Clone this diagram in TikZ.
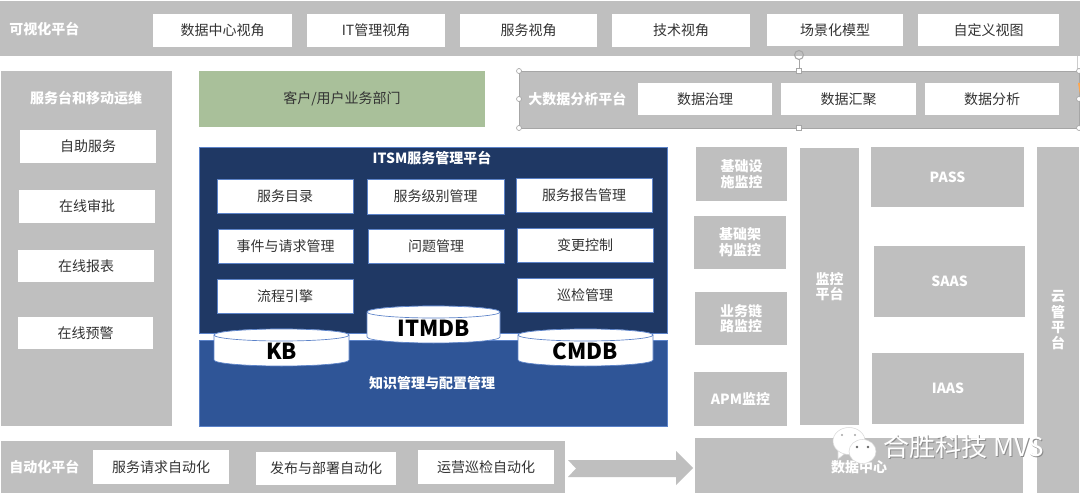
\documentclass[tikz,border=0pt]{standalone}
\usepackage{fontspec}
\setmainfont{Noto Sans CJK SC}
\definecolor{panelgray}{HTML}{BFBFBF}
\definecolor{navy}{HTML}{1F3864}
\definecolor{midblue}{HTML}{2F5597}
\definecolor{edgeblue}{HTML}{5B82C8}
\definecolor{sage}{HTML}{A9C09A}
\definecolor{handle}{HTML}{A6A6A6}
\tikzset{
  x=0.75pt,y=-0.75pt,
  base/.style={anchor=north west,inner sep=0pt,outer sep=0pt,align=center},
  panel/.style={base,fill=panelgray},
  panellabel/.style={text=white,inner sep=0pt,align=center,font=\fontsize{10.5pt}{11.8pt}\selectfont\bfseries},
  tile/.style={panel,panellabel},
  whitebox/.style={base,fill=white,font=\fontsize{10.5pt}{12pt}\selectfont,text=black!80},
  itsmbox/.style={whitebox,draw=edgeblue,line width=0.6pt},
  dbtext/.style={font=\fontsize{16.5pt}{18pt}\selectfont\bfseries,text=black,inner sep=0pt},
  dbshape/.style={fill=white,draw=edgeblue,line width=0.5pt},
  grip/.style={fill=white,draw=handle,line width=0.5pt},
  brandtext/.style={font=\fontsize{19.5pt}{21pt}\selectfont,anchor=west,inner sep=0pt},
}
% box given by its corners, in pixel units of the canvas
\newcommand{\pxbox}[7]{%
  \pgfmathsetmacro{\bw}{(#5-#3)*0.75}%
  \pgfmathsetmacro{\bh}{(#6-#4)*0.75}%
  \node[#1,minimum width=\bw pt,minimum height=\bh pt] (#2) at (#3,#4) {#7};%
}
% disk symbol: name, centre x, top rim y, half width, height, label
\newcommand{\disk}[6]{%
  \path[dbshape] (#2-#4,#3+6) -- (#2-#4,#3+#5-6)
    arc[start angle=180,end angle=0,x radius=#4,y radius=6]
    -- (#2+#4,#3+6)
    arc[start angle=360,end angle=180,x radius=#4,y radius=6] -- cycle;
  \path[dbshape] (#2,#3+6) ellipse[x radius=#4,y radius=6];
  \node[dbtext] (#1) at (#2,#3+#5-15) {#6};
}
\begin{document}
\begin{tikzpicture}
\useasboundingbox (0,0) rectangle (1080,495);
\fill[white] (0,0) rectangle (1080,495);

% visualisation platform
\pxbox{panel}{vis}{0}{1}{1080}{56}{}
\node[panellabel,anchor=west] (vislabel) at (9,29) {可视化平台};
\pxbox{whitebox}{v1}{153}{14}{292}{47}{数据中心视角}
\pxbox{whitebox}{v2}{307}{14}{445}{47}{IT管理视角}
\pxbox{whitebox}{v3}{460}{14}{597}{47}{服务视角}
\pxbox{whitebox}{v4}{612}{14}{750}{47}{技术视角}
\pxbox{whitebox}{v5}{767}{14}{903}{46}{场景化模型}
\pxbox{whitebox}{v6}{918}{14}{1059}{46}{自定义视图}

% service desk column
\pxbox{panel}{desk}{1}{71}{172}{426}{}
\node[panellabel] (desklabel) at (86,98) {服务台和移动运维};
\pxbox{whitebox}{d1}{20}{130}{156}{163}{自助服务}
\pxbox{whitebox}{d2}{19}{190}{155}{223}{在线审批}
\pxbox{whitebox}{d3}{18}{250}{154}{282}{在线报表}
\pxbox{whitebox}{d4}{18}{317}{153}{349}{在线预警}

% customer band
\pxbox{base,fill=sage,font=\fontsize{10.5pt}{12pt}\selectfont,text=black!80}{cust}{199}{71}{485}{127}{客户/用户业务部门}

% big data platform, shown with its grips
\pxbox{panel,draw=handle,line width=0.6pt}{bigdata}{519}{71}{1079}{128}{}
\node[panellabel,anchor=west] (bdlabel) at (528,99) {大数据分析平台};
\pxbox{whitebox}{b1}{638}{83}{772}{115}{数据治理}
\pxbox{whitebox}{b2}{781}{83}{916}{115}{数据汇聚}
\pxbox{whitebox}{b3}{925}{83}{1059}{115}{数据分析}
\draw[handle,line width=0.5pt] (799,71) -- (799,59);
\draw[handle,line width=0.8pt] (799,55) circle[radius=4.5];
\draw[black!20,line width=0.5pt] (1077,56) -- (1077,71);
\foreach \gx/\gy in {519/71,1079/71,519/99,1079/99,519/128,1079/128}
  \path[grip] (\gx,\gy) circle[radius=2.5];
\foreach \gx/\gy in {799/71,799/128}
  \path[grip] (\gx-2.5,\gy-2.5) rectangle (\gx+2.5,\gy+2.5);
\fill[orange!70!white] (1080,83) -- (1078,83) -- (1080,95) -- cycle;

% ITSM platform and knowledge layer
\pxbox{base,fill=navy,draw=edgeblue,line width=0.5pt}{itsm}{199}{147}{667}{333}{}
\pxbox{base,fill=midblue,draw=edgeblue,line width=0.5pt}{know}{199}{340}{667}{426}{}
\node[panellabel] (itsmlabel) at (432,158) {ITSM服务管理平台};
\node[panellabel] (knowlabel) at (432,383) {知识管理与配置管理};
\pxbox{itsmbox}{s1}{217}{179}{353}{213}{服务目录}
\pxbox{itsmbox}{s2}{367}{179}{504}{214}{服务级别管理}
\pxbox{itsmbox}{s3}{516}{178}{652}{212}{服务报告管理}
\pxbox{itsmbox}{s4}{218}{229}{353}{263}{事件与请求管理}
\pxbox{itsmbox}{s5}{368}{229}{504}{263}{问题管理}
\pxbox{itsmbox}{s6}{517}{228}{653}{262}{变更控制}
\pxbox{itsmbox}{s7}{217}{279}{353}{313}{流程引擎}
\pxbox{itsmbox}{s8}{517}{278}{653}{312}{巡检管理}
\disk{kb}{281.5}{329}{67.5}{37}{KB}
\disk{itmdb}{433.5}{306}{66.5}{37}{ITMDB}
\disk{cmdb}{585.5}{329}{67.5}{37}{CMDB}

% monitoring and cloud tiles
\pxbox{tile}{m1}{696}{147}{787}{201}{基础设\\施监控}
\pxbox{tile}{m2}{694}{216}{786}{269}{基础架\\构监控}
\pxbox{tile}{m3}{695}{292}{787}{345}{业务链\\路监控}
\pxbox{tile}{m4}{694}{372}{787}{426}{APM监控}
\pxbox{tile}{mon}{800}{148}{859}{425}{监控\\平台}
\pxbox{tile}{pass}{871}{147}{1024}{207}{PASS}
\pxbox{tile}{saas}{874}{246}{1025}{317}{SAAS}
\pxbox{tile}{iaas}{872}{353}{1024}{424}{IAAS}
\pxbox{tile}{cloud}{1037}{147}{1079}{493}{云\\管\\平\\台}
\pxbox{panel}{dc}{695}{438}{1023}{493}{}
\node[panellabel] (dclabel) at (859,467) {数据中心};

% automation platform
\pxbox{panel}{auto}{1}{441}{565}{493}{}
\node[panellabel,anchor=west] (autolabel) at (9,467) {自动化平台};
\pxbox{whitebox}{a1}{93}{450}{229}{484}{服务请求自动化}
\pxbox{whitebox}{a2}{256}{452}{396}{485}{发布与部署自动化}
\pxbox{whitebox}{a3}{418}{450}{554}{484}{运营巡检自动化}

% block arrow towards the data centre
\fill[panelgray] (568,460) -- (676,460) -- (676,451) -- (693,468) -- (676,485)
  -- (676,477) -- (568,477) -- (576,468.5) -- cycle;

% brand mark
\begin{scope}[line width=0.4pt]
  \path[fill=white,draw=black!15] (838,447) -- (838,459) -- (847,452) -- cycle;
  \path[fill=white,draw=black!15] (849,441) ellipse[x radius=16,y radius=13.5];
  \fill[black!35] (842,435) circle[radius=1.2] (855,435) circle[radius=1.2];
  \path[fill=white,draw=black!15] (862.5,451.5) ellipse[x radius=13.5,y radius=12];
  \fill[black!60] (857,447) circle[radius=1.3] (868,447) circle[radius=1.3];
\end{scope}
\node[brandtext,text=black!45] (brandshadow) at (884,448) {合胜科技 MVS};
\node[brandtext,text=white] (brand) at (883,447) {合胜科技 MVS};
\end{tikzpicture}
\end{document}
